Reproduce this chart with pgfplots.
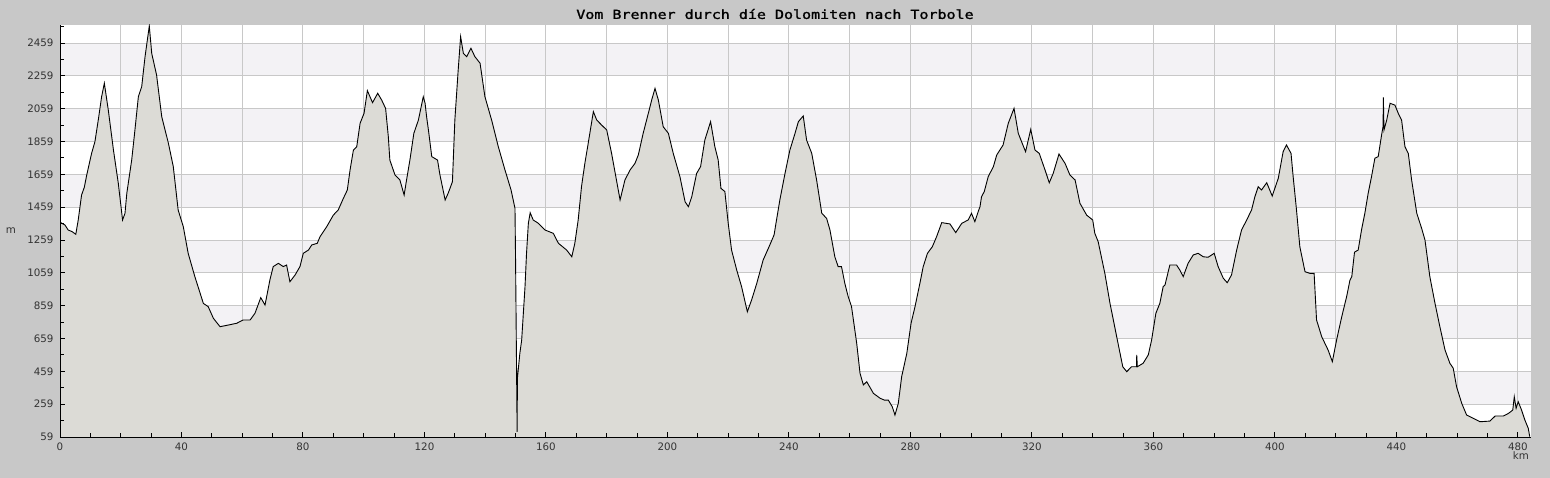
\documentclass[border=0pt]{standalone}
\usepackage{pgfplots}
\pgfplotsset{compat=1.18}
\usepackage{fontspec}
\setmainfont{DejaVu Sans}
\newfontfamily\titlefont{DejaVu Sans Mono}[FakeStretch=1.2,FakeBold=1.5]
\definecolor{bgc}{HTML}{C8C8C8}
\definecolor{bandc}{HTML}{F3F2F5}
\definecolor{gridc}{HTML}{C8C8C8}
\definecolor{areac}{HTML}{DCDBD6}
\definecolor{labc}{HTML}{333333}
\pgfplotstableread{
km m
0 1370
0.3 1364
1.6 1351
2.7 1320
4.0 1310
5.2 1294
6.0 1381
7.1 1533
8.0 1580
8.8 1655
10.4 1787
11.5 1858
12.6 1990
13.7 2132
14.6 2214
15.9 2051
17.6 1807
19.2 1604
20.6 1381
21.4 1422
22.0 1544
23.6 1746
24.5 1899
25.8 2132
26.9 2193
28.0 2376
29.4 2563
30.2 2396
31.8 2264
33.5 2010
35.7 1848
37.3 1706
38.9 1442
40.6 1340
42.2 1178
44.4 1036
47.2 873
48.8 853
50.5 782
52.7 731
55.4 741
58.2 752
60.3 772
62.6 772
64.2 813
66.1 908
67.5 863
69.1 1015
70.2 1097
71.9 1117
73.5 1097
74.6 1107
75.7 1005
77.4 1046
79.0 1097
80.1 1178
81.8 1198
82.9 1229
84.7 1239
85.6 1279
87.8 1340
90.0 1411
91.6 1442
93.3 1513
94.6 1564
95.5 1686
96.6 1807
97.7 1828
98.8 1970
100.1 2031
101.2 2169
102.9 2096
104.6 2153
105.9 2112
107.2 2061
108.1 1888
108.6 1746
110.3 1655
111.9 1625
113.3 1533
114.1 1625
115.2 1746
116.5 1909
118.0 1990
119.6 2132
120.2 2092
120.7 2010
121.3 1929
122.4 1767
124.3 1746
125.1 1655
126.8 1503
127.8 1544
129.2 1614
130.0 1990
131.1 2295
131.9 2498
132.8 2396
133.9 2376
135.3 2427
136.6 2376
138.3 2336
139.9 2132
142.1 1990
144.3 1828
146.5 1686
148.5 1564
149.8 1452
150.0 1117
150.5 91
150.6 417
151.4 569
152.0 650
153.1 975
153.6 1178
154.2 1361
154.8 1425
155.8 1381
157.5 1361
159.7 1320
162.4 1300
164.1 1239
166.8 1198
168.5 1157
169.5 1239
170.6 1381
171.7 1584
172.8 1726
173.9 1848
175.6 2041
176.7 1990
178.3 1960
180.0 1929
181.6 1787
183.0 1645
184.4 1503
186.0 1625
187.7 1686
189.3 1726
190.4 1777
192.0 1909
193.7 2031
194.8 2112
195.9 2183
197.0 2112
198.6 1949
200.3 1909
201.9 1787
204.1 1645
205.8 1492
206.9 1462
208.0 1523
209.6 1665
210.9 1706
212.3 1868
214.2 1980
215.6 1828
216.7 1746
217.6 1574
218.9 1554
220.0 1361
221.1 1198
222.8 1076
224.4 975
226.3 822
227.7 894
229.4 995
231.5 1137
233.7 1229
235.1 1290
235.9 1381
237.0 1503
238.7 1665
240.3 1807
242.0 1909
243.1 1980
244.7 2015
245.8 1868
247.5 1787
249.1 1625
250.8 1422
252.4 1391
253.5 1320
255.1 1157
256.2 1097
257.3 1097
258.4 995
259.5 914
260.6 853
262.3 630
263.4 447
264.5 376
265.6 396
267.8 325
270.0 295
271.4 284
272.7 284
274.0 244
274.9 193
276.0 264
277.1 426
278.8 569
280.2 752
281.5 853
283.1 995
284.2 1097
285.6 1178
287.2 1218
288.6 1279
290.3 1365
293.0 1357
294.9 1304
296.9 1361
299.0 1381
300.1 1422
301.2 1371
302.3 1432
302.9 1462
303.4 1523
304.3 1554
305.6 1645
307.3 1706
308.4 1777
310.5 1838
312.2 1970
314.1 2061
315.5 1909
316.8 1848
317.9 1797
319.6 1933
321.0 1807
322.4 1787
324.3 1686
325.7 1608
327.0 1665
328.9 1783
330.9 1726
332.5 1655
334.2 1625
335.8 1483
338.0 1411
340.0 1381
340.7 1300
341.8 1249
344.0 1056
345.7 873
347.9 670
349.9 487
351.2 457
352.8 487
354.4 487
354.5 559
354.7 487
356.6 508
358.3 559
359.4 650
360.8 813
362.1 873
363.2 975
363.8 985
365.4 1107
367.6 1107
368.7 1076
369.8 1036
371.4 1117
373.1 1168
374.7 1178
376.4 1157
378.0 1154
380.0 1178
381.3 1097
383.0 1026
384.3 999
385.7 1046
387.4 1198
389.0 1320
390.7 1381
392.3 1442
393.4 1523
394.5 1584
395.6 1564
397.3 1608
399.1 1527
401.1 1635
402.7 1797
403.8 1838
405.3 1787
406.0 1645
407.1 1442
408.2 1218
409.9 1066
411.5 1056
412.9 1056
413.7 772
415.4 670
417.5 589
418.9 518
420.3 650
422.0 792
423.6 914
424.7 1015
425.3 1036
426.2 1185
427.4 1198
428.5 1320
429.6 1422
430.7 1544
431.8 1645
432.9 1757
434.0 1767
435.2 1909
435.6 1950
435.7 2128
435.9 1929
436.8 1990
437.9 2092
439.5 2081
440.6 2031
441.7 1990
442.8 1828
443.9 1787
445.0 1625
446.7 1422
448.3 1330
449.4 1259
451.0 1036
452.7 873
454.3 731
456.0 589
457.6 508
458.7 478
459.8 365
461.5 264
463.1 193
465.3 173
467.5 152
470.8 156
472.5 187
475.2 187
476.9 203
478.3 223
478.8 304
479.4 234
480.1 274
481.2 223
482.3 162
483.4 112
483.9 61
}\profile
\begin{document}
\begin{tikzpicture}
\fill[bgc] (0,0) rectangle (1550bp,478bp);
\useasboundingbox (0,0) rectangle (1550bp,478bp);
\node[font=\titlefont\fontsize{12.5bp}{14bp}\selectfont, text=black] at (775bp,464bp) {Vom Brenner durch díe Dolomiten nach Torbole};
\begin{axis}[
  at={(60bp,41bp)}, anchor=south west,
  width=1471bp, height=412bp, scale only axis,
  xmin=0, xmax=484.3, ymin=59, ymax=2569,
  axis background/.style={fill=white},
  axis on top,
  axis lines=left,
  axis line style={-, black, line width=1bp},
  xtick={0,40,...,480}, minor x tick num=3,
  ytick={59,259,...,2459}, minor ytick={159,359,...,2559},
  tick align=inside,
  major tick length=5bp, minor tick length=4bp,
  tick style={black, line width=1bp},
  /pgf/number format/assume math mode=true,
  /pgf/number format/set thousands separator={},
  ticklabel style={font=\fontsize{10.3bp}{12bp}\selectfont, text=labc},
  xticklabel style={yshift=-2bp},
  yticklabel style={xshift=-3bp},
  xlabel={km},
  xlabel style={at={(rel axis cs:1,0)}, anchor=center, xshift=-10bp, yshift=-19bp, font=\fontsize{10.3bp}{12bp}\selectfont, text=labc},
  ylabel={m},
  ylabel style={at={(rel axis cs:0,0.5)}, rotate=-90, anchor=center, xshift=-49bp, font=\fontsize{10.3bp}{12bp}\selectfont, text=labc},
]
\fill[bandc] (axis cs:0,259) rectangle (axis cs:484.3,459);
\fill[bandc] (axis cs:0,659) rectangle (axis cs:484.3,859);
\fill[bandc] (axis cs:0,1059) rectangle (axis cs:484.3,1259);
\fill[bandc] (axis cs:0,1459) rectangle (axis cs:484.3,1659);
\fill[bandc] (axis cs:0,1859) rectangle (axis cs:484.3,2059);
\fill[bandc] (axis cs:0,2259) rectangle (axis cs:484.3,2459);
\pgfplotsinvokeforeach{20,40,60,80,100,120,140,160,180,200,220,240,260,280,300,320,340,360,380,400,420,440,460,480}{
  \draw[gridc, line width=1bp] (axis cs:#1,59) -- (axis cs:#1,2569);
}
\pgfplotsinvokeforeach{259,459,659,859,1059,1259,1459,1659,1859,2059,2259,2459}{
  \draw[gridc, line width=1bp] (axis cs:0,#1) -- (axis cs:484.3,#1);
}
\addplot[fill=areac, draw=none] table[x=km, y=m] {\profile} \closedcycle;
\addplot[black, line width=0.9bp] table[x=km, y=m] {\profile};
\end{axis}
\end{tikzpicture}
\end{document}
